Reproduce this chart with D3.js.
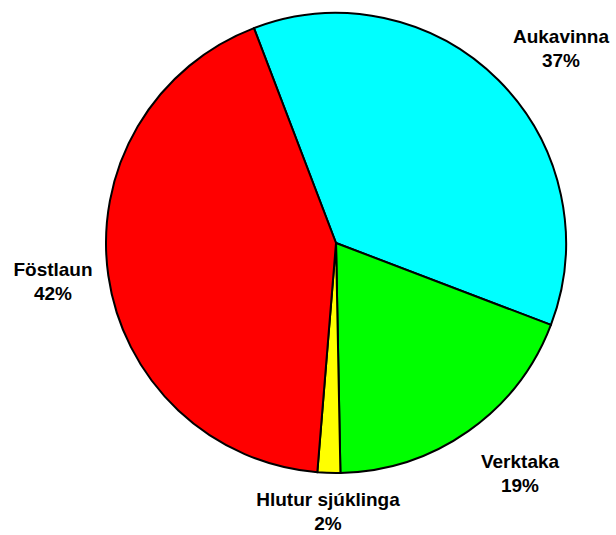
<!DOCTYPE html>
<html>
<head>
<meta charset="utf-8">
<script src="https://cdn.jsdelivr.net/npm/d3@7"></script>
<style>
  body { margin: 0; background: #fff; }
  text { font-family: "Liberation Sans", Arial, sans-serif; font-weight: bold; }
</style>
</head>
<body>
<div id="chart-area"></div>
<script>
// data
var categories = ["Aukavinna", "Verktaka", "Hlutur sjúklinga", "Föstlaun"];
var values = [36.6, 18.9, 1.6, 42.9];
var pctLabels = ["37%", "19%", "2%", "42%"];
var colors = ["#00ffff", "#00ff00", "#ffff00", "#ff0000"];

var width = 616, height = 535;
var cx = 336, cy = 243, radius = 230;

var svg = d3.select("#chart-area")
    .append("svg")
        .attr("width", width)
        .attr("height", height);

var g = svg.append("g")
    .attr("transform", "translate(" + cx + "," + cy + ")");

// pie layout, starting at the upper-left boundary
var start = -20.9 * Math.PI / 180;
var pie = d3.pie()
    .sort(null)
    .startAngle(start)
    .endAngle(start + 2 * Math.PI);

var arc = d3.arc()
    .innerRadius(0)
    .outerRadius(radius);

var arcs = pie(values);

g.selectAll("path")
    .data(arcs)
    .enter()
    .append("path")
        .attr("d", arc)
        .attr("fill", function(d, i) { return colors[i]; })
        .attr("stroke", "#000")
        .attr("stroke-width", 2)
        .attr("stroke-linejoin", "round");

// label positions (relative to centre)
var labelPos = [[225, -200], [184, 225], [-8, 263], [-283, 33]];

var labels = g.selectAll("text.lbl")
    .data(arcs)
    .enter()
    .append("text")
        .attr("class", "lbl")
        .attr("text-anchor", "middle")
        .attr("font-size", "19px")
        .attr("fill", "#000")
        .attr("transform", function(d, i) {
            return "translate(" + labelPos[i][0] + "," + labelPos[i][1] + ")";
        });

labels.append("tspan")
    .attr("x", 0)
    .attr("y", 0)
    .text(function(d, i) { return categories[i]; });

labels.append("tspan")
    .attr("x", 0)
    .attr("dy", 24)
    .text(function(d, i) { return pctLabels[i]; });
</script>
</body>
</html>
